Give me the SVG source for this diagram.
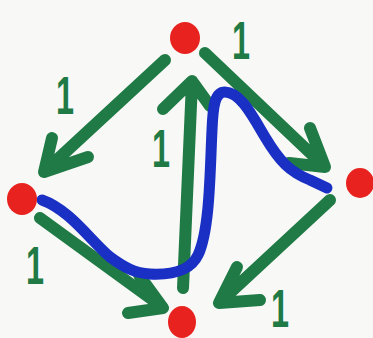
<svg xmlns="http://www.w3.org/2000/svg" width="373" height="338" viewBox="0 0 373 338">
<style>
.e{fill:none;stroke:#1f7a45;stroke-width:12;stroke-linecap:round;stroke-linejoin:round}
.p{fill:none;stroke:#1a2fc4;stroke-width:11;stroke-linecap:round;stroke-linejoin:round}
.n{fill:#e8231f}
.w{font-family:"Liberation Sans",Arial,sans-serif;font-weight:bold;font-size:54px;fill:#1f7a45;text-anchor:middle}
</style>
<rect width="373" height="338" fill="#f8f8f6"/>
<g id="connectors">
<path class="e" d="M165,60 L46,170 M52,138 L44,172 L88,157"/>
<path class="e" d="M205,53 L324,166 M310,128 L325,167 L289,163"/>
<path class="e" d="M40,218 L161,306 M139,275 L163,308 L128,313"/>
<path class="e" d="M330,200 L220,302 M237,267 L219,303 L260,300"/>
<path class="e" d="M183,288 L192,82 M163,109 L192,81 L210,106"/>
<path class="p" d="M42,200 C70,210 90,240 110,257 C125,268 135,273 150,274 C170,275 190,272 198,255 C210,230 210,170 212,130 C213,105 215,92 225,92 C240,92 252,115 265,137 C280,162 290,172 310,180 L327,188"/>
</g>
<g id="labels">
<text class="w" transform="translate(241,59) scale(0.6,1)">1</text>
<text class="w" transform="translate(65,114) scale(0.6,1)">1</text>
<text class="w" transform="translate(161,167) scale(0.6,1)">1</text>
<text class="w" transform="translate(35,284) scale(0.6,1)">1</text>
<text class="w" transform="translate(280,327) scale(0.6,1)">1</text>
</g>
<g id="node-top"><ellipse class="n" cx="185" cy="38" rx="15" ry="16"/></g>
<g id="node-left"><ellipse class="n" cx="22" cy="199" rx="15" ry="16"/></g>
<g id="node-right"><ellipse class="n" cx="360" cy="183" rx="14" ry="15"/></g>
<g id="node-bottom"><ellipse class="n" cx="182" cy="322" rx="14" ry="16"/></g>
</svg>
